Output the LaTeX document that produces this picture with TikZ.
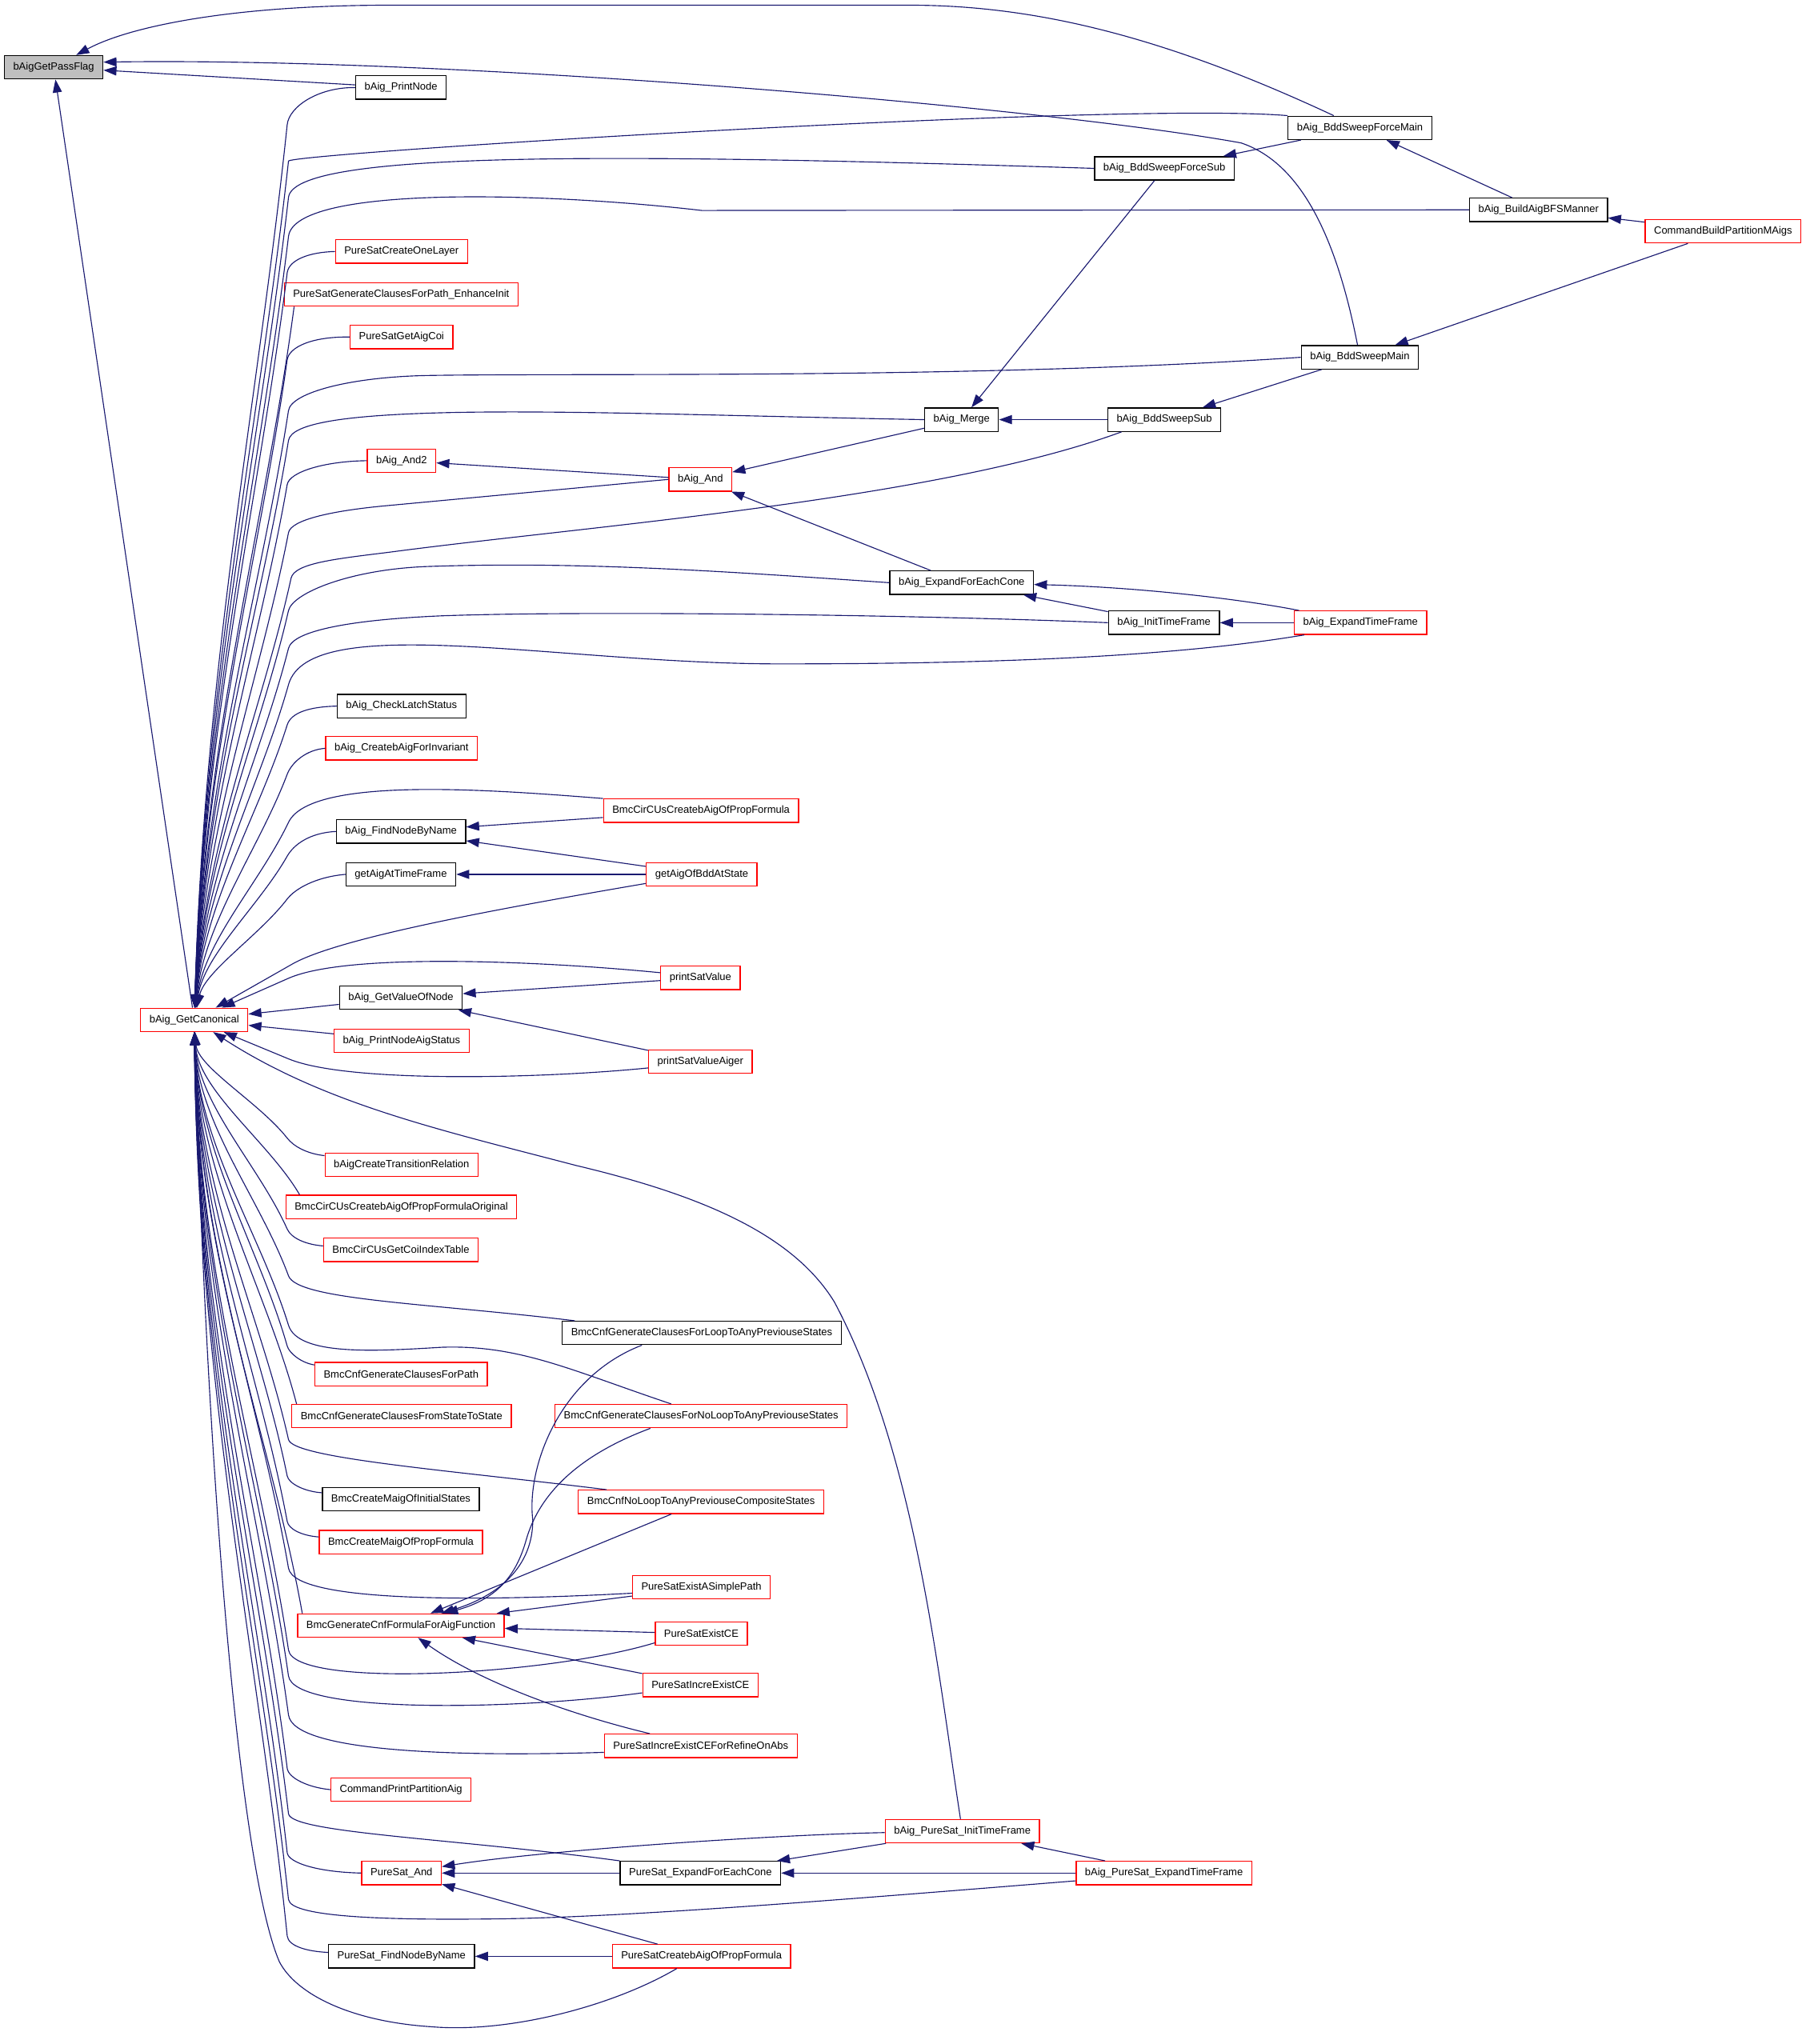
\documentclass[tikz,border=0pt]{standalone}
\usepackage{fontspec}
\setmainfont{Liberation Sans}
\usetikzlibrary{arrows.meta,calc}
\definecolor{edgeblue}{HTML}{191970}
\tikzset{
  func/.style={draw=black,line width=0.8pt,fill=white,inner xsep=6.8pt,inner ysep=0pt,minimum height=18pt,font=\fontsize{8}{9.6}\selectfont},
  funcred/.style={func,draw=red},
  funcroot/.style={func,fill=gray!50},
  calledge/.style={edgeblue,line width=0.7pt,-{Triangle[length=10pt,width=7pt]}},
}
\begin{document}
\begin{tikzpicture}[x=1pt,y=-1pt]
    \useasboundingbox (0,0) rectangle (1389.2,1573.3);
    % functions
    \node[funcroot] (gpf) at (41.3,51.8) {bAigGetPassFlag};
    \node[func] (pn) at (308.6,67.4) {bAig\_PrintNode};
    \node[func] (fm) at (1046.5,98.4) {bAig\_BddSweepForceMain};
    \node[func] (fs) at (896,129.6) {bAig\_BddSweepForceSub};
    \node[func] (bfs) at (1184,161.5) {bAig\_BuildAigBFSManner};
    \node[funcred] (cbp) at (1326,178) {CommandBuildPartitionMAigs};
    \node[funcred] (col) at (309,193.6) {PureSatCreateOneLayer};
    \node[funcred] (ei) at (308.7,226.6) {PureSatGenerateClausesForPath\_EnhanceInit};
    \node[funcred] (gac) at (309,259.4) {PureSatGetAigCoi};
    \node[func] (sm) at (1046.5,275) {bAig\_BddSweepMain};
    \node[func] (mrg) at (740,323) {bAig\_Merge};
    \node[func] (ss) at (896,323) {bAig\_BddSweepSub};
    \node[funcred] (band2) at (309,354.6) {bAig\_And2};
    \node[funcred] (band) at (539,369) {bAig\_And};
    \node[func] (efc) at (740,448.5) {bAig\_ExpandForEachCone};
    \node[func] (it) at (895.7,479.3) {bAig\_InitTimeFrame};
    \node[funcred] (et) at (1047,479.3) {bAig\_ExpandTimeFrame};
    \node[func] (cls) at (309,543.5) {bAig\_CheckLatchStatus};
    \node[funcred] (cbi) at (309,576) {bAig\_CreatebAigForInvariant};
    \node[funcred] (cpf) at (539.5,624) {BmcCirCUsCreatebAigOfPropFormula};
    \node[func] (fnbn) at (308.6,640) {bAig\_FindNodeByName};
    \node[func] (gaatf) at (308.5,673) {getAigAtTimeFrame};
    \node[funcred] (gaobs) at (540,673) {getAigOfBddAtState};
    \node[funcred] (psv) at (539,752.7) {printSatValue};
    \node[func] (gvon) at (308.5,768) {bAig\_GetValueOfNode};
    \node[funcred] (gc) at (149.5,785) {bAig\_GetCanonical};
    \node[funcred] (pnas) at (309,801) {bAig\_PrintNodeAigStatus};
    \node[funcred] (psva) at (539,817) {printSatValueAiger};
    \node[funcred] (ctr) at (309,896.5) {bAigCreateTransitionRelation};
    \node[funcred] (cpfo) at (308.8,929) {BmcCirCUsCreatebAigOfPropFormulaOriginal};
    \node[funcred] (cgci) at (308.5,962) {BmcCirCUsGetCoiIndexTable};
    \node[func] (lta) at (540,1026) {BmcCnfGenerateClausesForLoopToAnyPreviouseStates};
    \node[funcred] (cfp) at (308.7,1057.6) {BmcCnfGenerateClausesForPath};
    \node[funcred] (fsts) at (309,1090) {BmcCnfGenerateClausesFromStateToState};
    \node[funcred] (nlta) at (539.5,1090) {BmcCnfGenerateClausesForNoLoopToAnyPreviouseStates};
    \node[func] (mis) at (308.5,1154) {BmcCreateMaigOfInitialStates};
    \node[funcred] (nlc) at (539.5,1156) {BmcCnfNoLoopToAnyPreviouseCompositeStates};
    \node[funcred] (mpf) at (308.5,1187) {BmcCreateMaigOfPropFormula};
    \node[funcred] (esp) at (539.8,1221.7) {PureSatExistASimplePath};
    \node[funcred] (bgc) at (308.5,1251.2) {BmcGenerateCnfFormulaForAigFunction};
    \node[funcred] (ece) at (539.7,1257.5) {PureSatExistCE};
    \node[funcred] (iece) at (539,1297) {PureSatIncreExistCE};
    \node[funcred] (ieca) at (539.3,1343.8) {PureSatIncreExistCEForRefineOnAbs};
    \node[funcred] (cppa) at (308.6,1377.5) {CommandPrintPartitionAig};
    \node[funcred] (psit) at (740.6,1409.5) {bAig\_PureSat\_InitTimeFrame};
    \node[funcred] (psand) at (309,1441.7) {PureSat\_And};
    \node[func] (psefc) at (539,1441.7) {PureSat\_ExpandForEachCone};
    \node[funcred] (pset) at (895.7,1441.7) {bAig\_PureSat\_ExpandTimeFrame};
    \node[func] (psfn) at (309,1505.8) {PureSat\_FindNodeByName};
    \node[funcred] (pscb) at (539.8,1505.8) {PureSatCreatebAigOfPropFormula};
    % calls into bAigGetPassFlag
    \draw[calledge] (fm) .. controls (900,30) and (800,4) .. (700,4) -- (300,4) .. controls (180,4) and (100,20) .. (gpf);
    \draw[calledge] (sm) .. controls (1028,180) and (1000,125) .. (955,110) .. controls (800,82) and (350,44) .. ([yshift=4pt]gpf.east);
    \draw[calledge] (pn) -- (gpf);
    \draw[calledge] (gc) -- (gpf);
    % right part
    \draw[calledge] (fm) -- (fs);
    \draw[calledge] (bfs) -- (fm);
    \draw[calledge] (cbp) -- (bfs);
    \draw[calledge] (cbp) -- (sm);
    \draw[calledge] (fs) -- (mrg);
    \draw[calledge] (sm) -- (ss);
    \draw[calledge] (ss) -- (mrg);
    \draw[calledge] (mrg) -- (band);
    \draw[calledge] (efc) -- (band);
    \draw[calledge] (band) -- (band2);
    \draw[calledge] (it) -- (efc);
    \draw[calledge] (et) .. controls (960,462) and (880,452) .. (efc);
    \draw[calledge] (et) -- (it);
    % middle part
    \draw[calledge] (cpf) -- (fnbn);
    \draw[calledge] (gaobs) -- (fnbn);
    \draw[calledge] (gaobs) -- (gaatf);
    \draw[calledge] (psv) -- (gvon);
    \draw[calledge] (psva) -- (gvon);
    \draw[calledge] (gvon) -- (gc);
    \draw[calledge] (pnas) -- (gc);
    % lower part
    \draw[calledge] ([xshift=-46pt]lta.south) .. controls (430,1060) and (405,1130) .. (410,1170) .. controls (410,1205) and (385,1228) .. (bgc);
    \draw[calledge] ([xshift=-39pt]nlta.south) .. controls (445,1120) and (415,1150) .. (405,1185) .. controls (398,1210) and (385,1230) .. (bgc);
    \draw[calledge] (nlc) -- (bgc);
    \draw[calledge] (esp) -- (bgc);
    \draw[calledge] (ece) -- (bgc);
    \draw[calledge] (iece) -- (bgc);
    \draw[calledge] (ieca) .. controls (440,1320) and (370,1295) .. (bgc);
    \draw[calledge] (psit) .. controls (600,1412) and (420,1424) .. (psand);
    \draw[calledge] (psefc) -- (psand);
    \draw[calledge] (pscb) -- (psand);
    \draw[calledge] (psit) -- (psefc);
    \draw[calledge] (pset) -- (psefc);
    \draw[calledge] (pset) -- (psit);
    \draw[calledge] (pscb) -- (psfn);
    % calls into bAig_GetCanonical from above
    \draw[calledge] (pn.west) .. controls (245,67) and ($(221,96)!-14pt!(gc)$) .. (221,96) .. controls ($(221,96)!0.3!(gc)$) and (157.5,509.4) .. (gc);
    \draw[calledge] (fm.north west) .. controls (860,78) and ($(222,124)!-6pt!(gc)$) .. (222,124) .. controls ($(222,124)!0.3!(gc)$) and (157.5,520.6) .. (gc);
    \draw[calledge] (fs.west) .. controls (450,117) and ($(222,152)!-35pt!(gc)$) .. (222,152) .. controls ($(222,152)!0.3!(gc)$) and (157.5,531.8) .. (gc);
    \draw[calledge] (bfs.west) -- (540,162) .. controls (420,148) and ($(222,182)!-40pt!(gc)$) .. (222,182) .. controls ($(222,182)!0.3!(gc)$) and (157.5,543.8) .. (gc);
    \draw[calledge] (col.west) .. controls (238,194) and ($(221,210)!-10pt!(gc)$) .. (221,210) .. controls ($(221,210)!0.3!(gc)$) and (157.5,555) .. (gc);
    \draw[calledge] ([xshift=8pt]ei.south west) .. controls (204.5,400.7) and (157.5,565.4) .. (gc);
    \draw[calledge] (gac.west) .. controls (240,259) and ($(221,277)!-10pt!(gc)$) .. (221,277) .. controls ($(221,277)!0.3!(gc)$) and (157.5,581.8) .. (gc);
    \draw[calledge] (sm.west) .. controls (750,292) and (450,287) .. (330,289) .. controls (270,290) and ($(222,316)!-14pt!(gc)$) .. (222,316) .. controls ($(222,316)!0.3!(gc)$) and (157.5,597.4) .. (gc);
    \draw[calledge] (mrg.west) .. controls (550,320) and (420,315) .. (330,318) .. controls (270,320) and ($(222,339)!-14pt!(gc)$) .. (222,339) .. controls ($(222,339)!0.3!(gc)$) and (157.5,606.6) .. (gc);
    \draw[calledge] (band2.west) .. controls (250,355) and ($(221,373)!-10pt!(gc)$) .. (221,373) .. controls ($(221,373)!0.3!(gc)$) and (157.5,620.2) .. (gc);
    \draw[calledge] (band.west) -- (300,389) .. controls (255,393) and ($(222,410)!-10pt!(gc)$) .. (222,410) .. controls ($(222,410)!0.3!(gc)$) and (157.5,635) .. (gc);
    \draw[calledge] ([xshift=11pt]ss.south west) .. controls (720,385) and (450,405) .. (300,425) .. controls (260,430) and ($(224,445)!-12pt!(gc)$) .. (224,445) .. controls ($(224,445)!0.3!(gc)$) and (157.5,649) .. (gc);
    \draw[calledge] (efc.west) .. controls (560,440) and (450,432) .. (330,436) .. controls (270,438) and ($(222,470)!-14pt!(gc)$) .. (222,470) .. controls ($(222,470)!0.3!(gc)$) and (157.5,659) .. (gc);
    \draw[calledge] (it.west) .. controls (700,473) and (450,470) .. (340,474) .. controls (270,477) and ($(222,499)!-14pt!(gc)$) .. (222,499) .. controls ($(222,499)!0.3!(gc)$) and (157.5,670.6) .. (gc);
    \draw[calledge] ([xshift=8pt]et.south west) .. controls (900,506) and (760,511) .. (600,511) .. controls (430,511) and ($(222,527)!-60pt!(gc)$) .. (222,527) .. controls ($(222,527)!0.3!(gc)$) and (157.5,681.8) .. (gc);
    \draw[calledge] (cls.west) .. controls (238,544) and ($(221,558)!-10pt!(gc)$) .. (221,558) .. controls ($(221,558)!0.3!(gc)$) and (157.5,694.2) .. (gc);
    \draw[calledge] (cbi.west) .. controls (236,577) and ($(221,596)!-10pt!(gc)$) .. (221,596) .. controls ($(221,596)!0.3!(gc)$) and (157.5,709.4) .. (gc);
    \draw[calledge] (cpf.north west) .. controls (380,608) and ($(222,633)!-40pt!(gc)$) .. (222,633) .. controls ($(222,633)!0.3!(gc)$) and (157.5,724.2) .. (gc);
    \draw[calledge] (fnbn.west) .. controls (238,641) and ($(221,659)!-10pt!(gc)$) .. (221,659) .. controls ($(221,659)!0.3!(gc)$) and (157.5,734.6) .. (gc);
    \draw[calledge] (gaatf.west) .. controls (243,675) and ($(221,692)!-10pt!(gc)$) .. (221,692) .. controls ($(221,692)!0.3!(gc)$) and (157.5,747.8) .. (gc);
    \draw[calledge] ([yshift=-7pt]gaobs.west) .. controls (380,700) and ($(225,742)!-40pt!(gc)$) .. (225,742) -- (gc);
    \draw[calledge] ([yshift=4pt]psv.west) .. controls (420,740) and ($(222,753)!-50pt!(gc)$) .. (222,753) -- (gc);
    % calls into bAig_GetCanonical from below
    \draw[calledge] ([yshift=-5pt]psva.west) .. controls (420,830) and ($(222,815)!-50pt!(gc)$) .. (222,815) -- (gc);
    \draw[calledge] (psit) .. controls (722,1290) and (705,1120) .. (642,1002) .. controls (610,950) and (540,920) .. (443,897) .. controls (340,870) and (250,850) .. (gc);
    \draw[calledge] ([yshift=7pt]ctr.west) .. controls (236,888) and ($(221,876)!-8pt!(gc)$) .. (221,876) .. controls ($(221,876)!0.3!(gc)$) and (152,821.4) .. (gc);
    \draw[calledge] ([xshift=11pt]cpfo.north west) .. controls (207.3,879.5) and (152,839) .. (gc);
    \draw[calledge] ([yshift=3pt]cgci.west) .. controls (236,958) and ($(221,946)!-8pt!(gc)$) .. (221,946) .. controls ($(221,946)!0.3!(gc)$) and (152,849.4) .. (gc);
    \draw[calledge] ([xshift=10pt]lta.north west) .. controls (330,1003) and ($(222,982)!-20pt!(gc)$) .. (222,982) .. controls ($(222,982)!0.3!(gc)$) and (152,863.8) .. (gc);
    \draw[calledge] ([yshift=7pt]cfp.west) .. controls (232,1049) and ($(221,1036)!-6pt!(gc)$) .. (221,1036) .. controls ($(221,1036)!0.3!(gc)$) and (152,885.4) .. (gc);
    \draw[calledge] ([xshift=-23pt]nlta.north) .. controls (440,1055) and (400,1035) .. (340,1037) .. controls (290,1040) and ($(222,1020)!-25pt!(gc)$) .. (222,1020) .. controls ($(222,1020)!0.3!(gc)$) and (152,879) .. (gc);
    \draw[calledge] ([xshift=4pt]fsts.north west) .. controls (205.2,992.2) and (152,903.4) .. (gc);
    \draw[calledge] ([xshift=22pt]nlc.north west) .. controls (350,1132) and ($(222,1108)!-15pt!(gc)$) .. (222,1108) .. controls ($(222,1108)!0.3!(gc)$) and (152,914.2) .. (gc);
    \draw[calledge] ([yshift=5pt]mis.west) .. controls (234,1148) and ($(221,1136)!-6pt!(gc)$) .. (221,1136) .. controls ($(221,1136)!0.3!(gc)$) and (152,925.4) .. (gc);
    \draw[calledge] ([yshift=4pt]mpf.west) .. controls (232,1182) and ($(221,1171)!-6pt!(gc)$) .. (221,1171) .. controls ($(221,1171)!0.3!(gc)$) and (152,939.4) .. (gc);
    \draw[calledge] ([yshift=-4.6pt]esp.west) .. controls (400,1231) and ($(222,1207)!-30pt!(gc)$) .. (222,1207) .. controls ($(222,1207)!0.3!(gc)$) and (152,953.8) .. (gc);
    \draw[calledge] ([xshift=4pt]bgc.north west) .. controls (208.3,1105) and (152,968) .. (gc);
    \draw[calledge] ([yshift=-7pt]ece.west) .. controls (420,1290) and ($(222,1270)!-30pt!(gc)$) .. (222,1270) .. controls ($(222,1270)!0.3!(gc)$) and (152,979) .. (gc);
    \draw[calledge] ([yshift=-6pt]iece.west) .. controls (400,1316) and ($(222,1290)!-30pt!(gc)$) .. (222,1290) .. controls ($(222,1290)!0.3!(gc)$) and (152,987) .. (gc);
    \draw[calledge] ([yshift=-5pt]ieca.west) .. controls (360,1352) and ($(222,1320)!-30pt!(gc)$) .. (222,1320) .. controls ($(222,1320)!0.3!(gc)$) and (152,999) .. (gc);
    \draw[calledge] (cppa.west) .. controls (238,1376) and ($(221,1361)!-8pt!(gc)$) .. (221,1361) .. controls ($(221,1361)!0.3!(gc)$) and (152,1015.4) .. (gc);
    \draw[calledge] (psefc.north west) .. controls (350,1415) and ($(222,1396)!-15pt!(gc)$) .. (222,1396) .. controls ($(222,1396)!0.3!(gc)$) and (152,1029.4) .. (gc);
    \draw[calledge] (psand.west) .. controls (245,1441) and ($(221,1426)!-8pt!(gc)$) .. (221,1426) .. controls ($(221,1426)!0.3!(gc)$) and (152,1041.4) .. (gc);
    \draw[calledge] ([yshift=-6pt]pset.west) .. controls (650,1462) and (480,1476) .. (380,1477) .. controls (300,1478) and ($(222,1462)!-14pt!(gc)$) .. (222,1462) .. controls ($(222,1462)!0.3!(gc)$) and (152,1055.8) .. (gc);
    \draw[calledge] ([yshift=3pt]psfn.west) .. controls (236,1502) and ($(221,1490)!-8pt!(gc)$) .. (221,1490) .. controls ($(221,1490)!0.3!(gc)$) and (152,1067) .. (gc);
    \draw[calledge] ([xshift=-19pt]pscb.south) .. controls (470,1545) and (390,1565) .. (332,1560) .. controls (270,1556) and (228,1535) .. (215,1510) .. controls (185,1440) and (160,1150) .. (gc);
\end{tikzpicture}
\end{document}
